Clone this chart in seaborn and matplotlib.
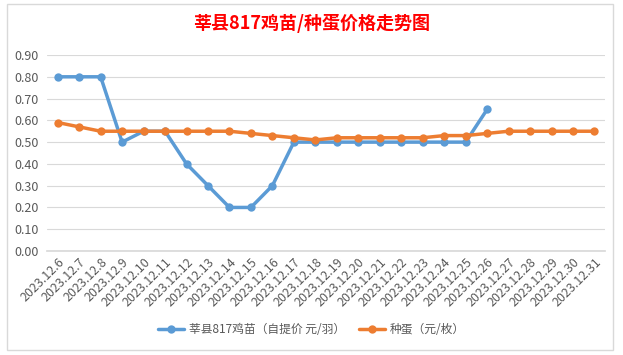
import matplotlib
matplotlib.use("Agg")
import matplotlib.pyplot as plt
import seaborn as sns
import pandas as pd
import numpy as np
from matplotlib.patches import Rectangle

dates = ["2023.12.6", "2023.12.7", "2023.12.8", "2023.12.9", "2023.12.10", "2023.12.11",
         "2023.12.12", "2023.12.13", "2023.12.14", "2023.12.15", "2023.12.16", "2023.12.17",
         "2023.12.18", "2023.12.19", "2023.12.20", "2023.12.21", "2023.12.22", "2023.12.23",
         "2023.12.24", "2023.12.25", "2023.12.26", "2023.12.27", "2023.12.28", "2023.12.29",
         "2023.12.30", "2023.12.31"]
chick = [0.80, 0.80, 0.80, 0.50, 0.55, 0.55, 0.40, 0.30, 0.20, 0.20, 0.30, 0.50,
         0.50, 0.50, 0.50, 0.50, 0.50, 0.50, 0.50, 0.50, 0.65,
         np.nan, np.nan, np.nan, np.nan, np.nan]
egg = [0.59, 0.57, 0.55, 0.55, 0.55, 0.55, 0.55, 0.55, 0.55, 0.54, 0.53, 0.52,
       0.51, 0.52, 0.52, 0.52, 0.52, 0.52, 0.53, 0.53, 0.54, 0.55, 0.55, 0.55,
       0.55, 0.55]
series_names = ["莘县817鸡苗（自提价 元/羽）", "种蛋（元/枚）"]
yticks = [0.0, 0.1, 0.2, 0.3, 0.4, 0.5, 0.6, 0.7, 0.8, 0.9]
title = "莘县817鸡苗/种蛋价格走势图"

sns.set_theme(style="white")
plt.rcParams['font.family'] = ['Noto Sans CJK SC', 'DejaVu Sans']

df = pd.DataFrame({"idx": list(range(len(dates))) * 2,
                   "value": chick + egg,
                   "series": [series_names[0]] * len(dates) + [series_names[1]] * len(dates)})

fig = plt.figure(figsize=(6.23, 3.55), dpi=100)
fig.patch.set_facecolor("white")
fig.add_artist(Rectangle((0.011, 0.014), 0.973, 0.975, transform=fig.transFigure,
                         fill=False, edgecolor="#D9D9D9", linewidth=1))
ax = fig.add_axes([0.0754, 0.293, 0.896, 0.552])

palette = {series_names[0]: "#5B9BD5", series_names[1]: "#ED7D31"}
sns.lineplot(data=df, x="idx", y="value", hue="series", palette=palette, ax=ax,
             marker="o", markersize=6, markeredgewidth=0, linewidth=2.5, legend=True)

ax.set_xlim(-0.5, len(dates) - 0.5)
ax.set_ylim(0, 0.9)
ax.set_yticks(yticks)
ax.set_yticklabels([f"{v:.2f}" for v in yticks], fontsize=9, color="#595959")
ax.set_xticks(range(len(dates)))
ax.set_xticklabels(dates, rotation=45, ha="right", rotation_mode="anchor",
                   fontsize=9, color="#595959")
ax.tick_params(axis="y", length=0, pad=6)
ax.tick_params(axis="x", length=0, pad=3)
ax.grid(axis="y", color="#D9D9D9", linewidth=0.8)
ax.set_axisbelow(True)
for s in ["top", "right", "left"]:
    ax.spines[s].set_visible(False)
ax.spines["bottom"].set_color("#D9D9D9")
ax.set_xlabel("")
ax.set_ylabel("")

handles, labels = ax.get_legend_handles_labels()
ax.get_legend().remove()
fig.legend(handles, labels, loc="center", bbox_to_anchor=(0.5, 0.072), ncol=2,
           frameon=False, fontsize=8.5, handlelength=2.2, columnspacing=1.2,
           labelcolor="#595959", handletextpad=0.4)

fig.text(0.5, 0.935, title, ha="center", va="center", fontsize=13,
         fontweight="bold", color="#FF0000")

fig.savefig("out.png", dpi=100, facecolor="white")
